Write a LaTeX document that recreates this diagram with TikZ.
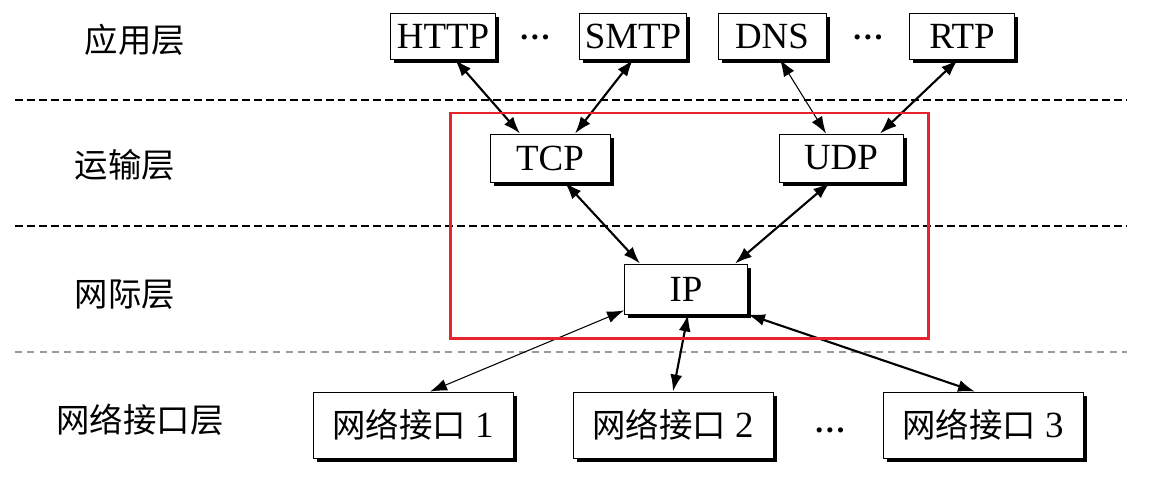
\documentclass[tikz,border=0pt]{standalone}
\usepackage{fontspec}
\setmainfont{Liberation Serif}
\newfontfamily\cjk{Noto Sans CJK SC}
\usetikzlibrary{arrows.meta,shadows,calc}

\definecolor{markred}{HTML}{E8232B}
\definecolor{sepgray}{HTML}{9A9A9A}

\begin{document}
\begin{tikzpicture}[x=0.02cm,y=-0.02cm,font=\fontsize{21}{24}\selectfont,
  proto/.style={draw,line width=0.5pt,fill=white,inner sep=0pt,
    drop shadow={shadow xshift=2.2pt,shadow yshift=-2.2pt,opacity=1,fill=black}},
  gap/.style={font=\fontsize{18}{20}\selectfont\bfseries},
  link/.style={{Latex[length=3.4mm,width=2.4mm]}-{Latex[length=3.4mm,width=2.4mm]},line width=1.2pt},
  thinlink/.style={link,line width=0.6pt},
  sep/.style={line width=1.6pt,dash pattern=on 4.5pt off 2.3pt},
  lightsep/.style={sepgray,line width=0.6pt,dash pattern=on 4pt off 3pt}]
\useasboundingbox (0,0) rectangle (1165,484);
% layers
\node[font=\cjk\fontsize{19}{22}\selectfont] (lapp) at (135,40) {应用层};
\node[font=\cjk\fontsize{19}{22}\selectfont] (ltra) at (125,165) {运输层};
\node[font=\cjk\fontsize{19}{22}\selectfont] (lint) at (125,295) {网际层};
\node[font=\cjk\fontsize{19}{22}\selectfont] (lnet) at (140,420) {网络接口层};
\draw[sep] (15,100) -- (1127,100);
\draw[sep] (15,226) -- (1127,226);
\draw[lightsep] (15,352) -- (1127,352);
% application
\node[proto,minimum width=2.1cm,minimum height=0.92cm] (http) at (443,36) {HTTP};
\node[gap] (dotsa) at (535,37) {…};
\node[proto,minimum width=2.14cm,minimum height=0.92cm] (smtp) at (633,36) {SMTP};
\node[proto,minimum width=2.16cm,minimum height=0.92cm] (dns) at (772,36) {DNS};
\node[gap] (dotsb) at (868,37) {…};
\node[proto,minimum width=2.1cm,minimum height=0.92cm] (rtp) at (962,36) {RTP};
% transport and internet
\node[proto,minimum width=2.4cm,minimum height=0.96cm] (tcp) at (550,158) {TCP};
\node[proto,minimum width=2.48cm,minimum height=0.96cm] (udp) at (841,158) {UDP};
\node[proto,minimum width=2.46cm,minimum height=1.0cm] (ip) at (686,289) {IP};
% network interfaces
\node[proto,minimum width=4cm,minimum height=1.32cm] (neta) at (413,425) {{\cjk\fontsize{19}{22}\selectfont 网络接口} 1};
\node[proto,minimum width=4cm,minimum height=1.32cm] (netb) at (673,425) {{\cjk\fontsize{19}{22}\selectfont 网络接口} 2};
\node[gap] (dotsc) at (830,430) {…};
\node[proto,minimum width=4cm,minimum height=1.32cm] (netc) at (983,425) {{\cjk\fontsize{19}{22}\selectfont 网络接口} 3};
\draw[link] ($(http.south)+(12,0)$) -- ($(tcp.north)+(-30,0)$);
\draw[link] (smtp.south) -- ($(tcp.north)+(25,0)$);
\draw[thinlink] ($(dns.south)+(8,0)$) -- ($(udp.north)+(-15,0)$);
\draw[link] ($(rtp.south)+(-4,0)$) -- ($(udp.north)+(39,0)$);
\draw[link] ($(tcp.south)+(15,0)$) -- ($(ip.north)+(-46,0)$);
\draw[link] ($(udp.south)+(-11,0)$) -- ($(ip.north)+(49,0)$);
\draw[thinlink] ($(ip.south west)+(0,-4)$) -- ($(neta.north)+(17,0)$);
\draw[link] ($(ip.south)+(2,0)$) -- (netb.north);
\draw[link] (ip.south east) -- ($(netc.north)+(-8,0)$);
\draw[markred,line width=1.7pt] (450,113) rectangle (928,338);
\end{tikzpicture}
\end{document}
